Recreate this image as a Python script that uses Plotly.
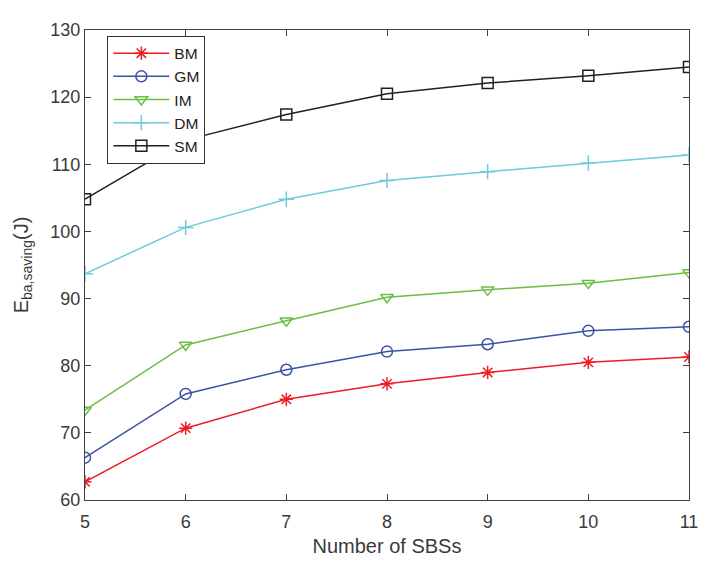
import plotly.graph_objects as go

sbs = [5, 6, 7, 8, 9, 10, 11]
bm = [62.7, 70.7, 75.0, 77.3, 79.0, 80.5, 81.3]
gm = [66.3, 75.8, 79.4, 82.1, 83.2, 85.2, 85.8]
im = [73.4, 83.1, 86.7, 90.2, 91.3, 92.3, 93.9]
dm = [93.7, 100.6, 104.8, 107.6, 108.9, 110.2, 111.4]
sm = [104.8, 113.6, 117.4, 120.5, 122.1, 123.2, 124.5]

series = [
    ("BM", bm, "#ED1C24", "asterisk-open"),
    ("GM", gm, "#3A52A4", "circle-open"),
    ("IM", im, "#6BBD45", "triangle-down-open"),
    ("DM", dm, "#6DCBDC", "cross-thin-open"),
    ("SM", sm, "#231F20", "square-open"),
]

fig = go.Figure()
for name, vals, col, sym in series:
    fig.add_trace(go.Scatter(
        x=sbs, y=vals, name=name, mode="lines+markers",
        line=dict(color=col, width=1.5),
        marker=dict(symbol=sym, size=11, color=col, line=dict(color=col, width=1.5)),
    ))

axis_common = dict(
    showgrid=False, zeroline=False, showline=True, linecolor="#404040", linewidth=1,
    mirror="ticks", ticks="inside", ticklen=6, tickcolor="#404040",
    tickfont=dict(family="Liberation Sans, Arial", size=18, color="#3a3a3a"),
)

fig.update_layout(
    width=710, height=569,
    margin=dict(l=75, r=29, t=14, b=77),
    paper_bgcolor="white", plot_bgcolor="white",
    font=dict(family="Liberation Sans, Arial", color="#3a3a3a"),
    xaxis=dict(range=[5, 11], dtick=1, ticklabelstandoff=5,
               title=dict(text="Number of SBSs", font=dict(size=20, color="#3a3a3a"), standoff=8),
               **axis_common),
    yaxis=dict(range=[60, 130], dtick=10,
               title=dict(text="E<sub>ba,saving</sub>(J)", font=dict(size=20, color="#3a3a3a"), standoff=16),
               **axis_common),
    legend=dict(x=0.037, y=0.988, xanchor="left", yanchor="top",
                bordercolor="#333333", borderwidth=1, bgcolor="white",
                font=dict(size=15.5, color="#222222"), tracegroupgap=0, itemwidth=56),
    showlegend=True,
)

fig.write_html("out.html")
